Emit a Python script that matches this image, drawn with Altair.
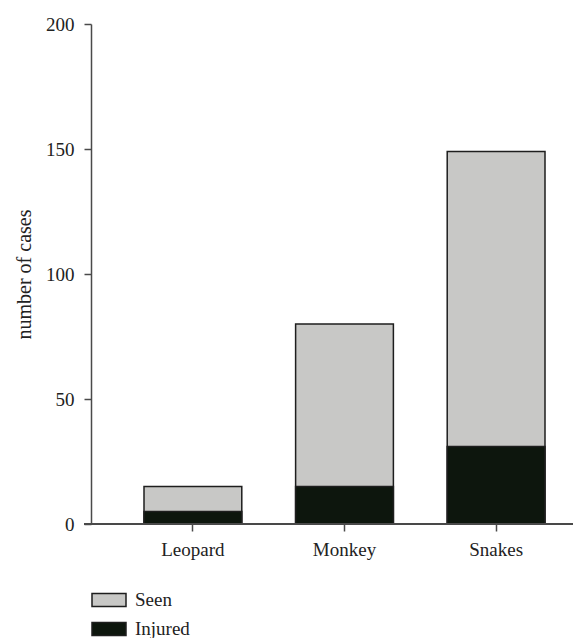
import altair as alt
import pandas as pd

animals = ["Leopard", "Monkey", "Snakes"]
seen_total = [15, 80, 149]
injured = [5, 15, 31]
y_ticks = [0, 50, 100, 150, 200]

rows = []
for a, s in zip(animals, seen_total):
    rows.append({"animal": a, "status": "Seen", "cases": s})
for a, i in zip(animals, injured):
    rows.append({"animal": a, "status": "Injured", "cases": i})
df = pd.DataFrame(rows)

FONT = "Liberation Serif"
FS = 19
W, H = 482, 500
AX = "#4a4a4a"

bars = alt.Chart(df).mark_bar(stroke="#1e1e1e", strokeWidth=1.5).encode(
    x=alt.X("animal:N", sort=animals,
            scale=alt.Scale(range=[53, 454], paddingInner=0.355, paddingOuter=0),
            axis=alt.Axis(title=None, labelAngle=0, domain=False, tickSize=7,
                          tickColor=AX, tickWidth=1.5, labelPadding=9,
                          labelFont=FONT, labelFontSize=FS, labelColor="#222")),
    y=alt.Y("cases:Q", stack=None,
            scale=alt.Scale(domain=[0, 200], nice=False),
            axis=alt.Axis(values=y_ticks, title="number of cases", grid=False,
                          domainColor=AX, domainWidth=1.5, tickColor=AX, tickWidth=1.5,
                          tickSize=7, labelPadding=10, labelFont=FONT, labelFontSize=FS,
                          labelColor="#222", titleFont=FONT, titleFontSize=20,
                          titleFontWeight="normal", titleColor="#222",
                          titleX=-67, titleY=250, titleAngle=-90, titleAlign="center",
                          titleBaseline="middle")),
    color=alt.Color("status:N",
                    scale=alt.Scale(domain=["Seen", "Injured"], range=["#c8c8c6", "#0d160d"]),
                    legend=alt.Legend(title=None, orient="none", legendX=7, legendY=565,
                                      symbolType="M-1.7,-0.65H1.7V0.65H-1.7Z",
                                      symbolSize=400, symbolStrokeColor="#1e1e1e",
                                      symbolStrokeWidth=1.5, labelOffset=15, rowPadding=8,
                                      labelFont=FONT, labelFontSize=FS, labelColor="#222")),
    order=alt.Order("status:N", sort="descending"),
)

base_line = alt.Chart(df).mark_rule(color=AX, strokeWidth=1.5).encode(
    x=alt.value(-7), x2=alt.value(W), y=alt.value(H)
)

chart = alt.layer(bars, base_line).properties(
    width=W, height=H,
    autosize=alt.AutoSizeParams(type="none"),
    padding={"left": 83, "top": 16, "right": 6, "bottom": 114},
).configure_view(stroke=None)

chart.save("out.html", embed_options={"renderer": "svg", "actions": False})
